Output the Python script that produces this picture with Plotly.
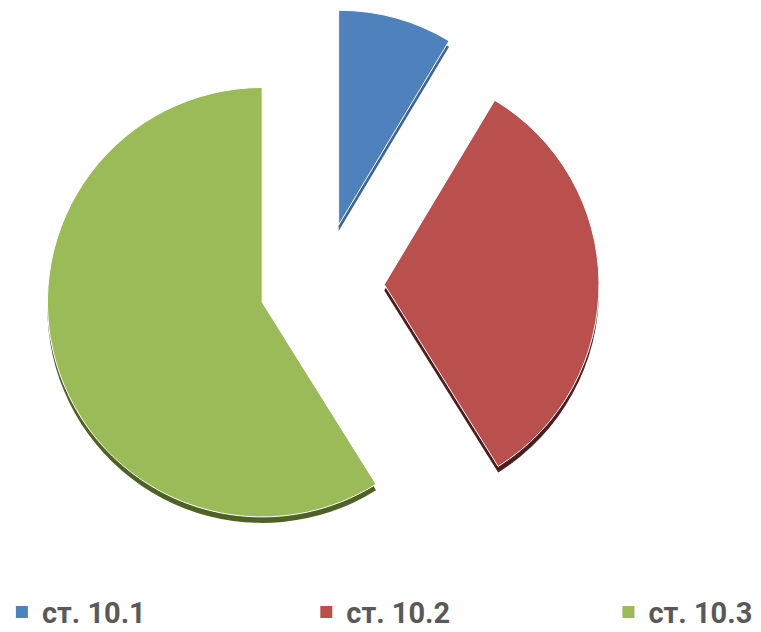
import plotly.graph_objects as go

labels = ["ст. 10.1", "ст. 10.2", "ст. 10.3"]
values = [8.6, 32.5, 58.9]
colors = ["#4f81bd", "#b9504d", "#9bbb59"]
side_colors = ["#3d6596", "#4e1d1d", "#4f6127"]
pulls = [0.29, 0.29, 0.29]

W, H = 761, 632
cx, cy = 314, 277          # pie centre in px from top-left
half = cy                  # domain half size (px)
depth = 6                  # 3D thickness (px)
legend_x = [-0.008, 0.392, 0.789]

def dom(dy=0):
    x0 = (cx - half) / W
    x1 = (cx + half) / W
    y1 = 1 - (cy - half + dy) / H
    y0 = 1 - (cy + half + dy) / H
    return dict(x=[x0, x1], y=[max(0, y0), min(1, y1)])

fig = go.Figure()
fig.add_trace(go.Pie(
    labels=labels, values=values, sort=False, direction="clockwise", rotation=0,
    pull=pulls, marker=dict(colors=side_colors, line=dict(width=0)),
    textinfo="none", hoverinfo="skip", showlegend=False, domain=dom(depth),
))
fig.add_trace(go.Pie(
    labels=labels, values=values, sort=False, direction="clockwise", rotation=0,
    pull=pulls, marker=dict(colors=colors, line=dict(color="white", width=1)),
    textinfo="none", showlegend=False, domain=dom(0),
))

legend_font = dict(family="Roboto, sans-serif", size=29, color="#595959", weight="bold")
layout_legends = {}
for i, (lab, col) in enumerate(zip(labels, colors)):
    lid = "legend" if i == 0 else f"legend{i+1}"
    fig.add_trace(go.Scatter(
        x=[None], y=[None], mode="markers", name=lab,
        marker=dict(symbol="square", size=12, color=col, line=dict(width=0)),
        showlegend=True, legend=lid, hoverinfo="skip",
    ))
    layout_legends[lid] = dict(
        orientation="h", x=legend_x[i], xanchor="left", y=0.044, yanchor="middle",
        font=legend_font, bgcolor="rgba(0,0,0,0)", itemclick=False, itemdoubleclick=False,
    )

fig.update_layout(
    width=W, height=H,
    margin=dict(l=0, r=0, t=0, b=0, autoexpand=False),
    paper_bgcolor="white", plot_bgcolor="white",
    xaxis=dict(visible=False), yaxis=dict(visible=False),
    **layout_legends,
)
fig.write_html("out.html")
